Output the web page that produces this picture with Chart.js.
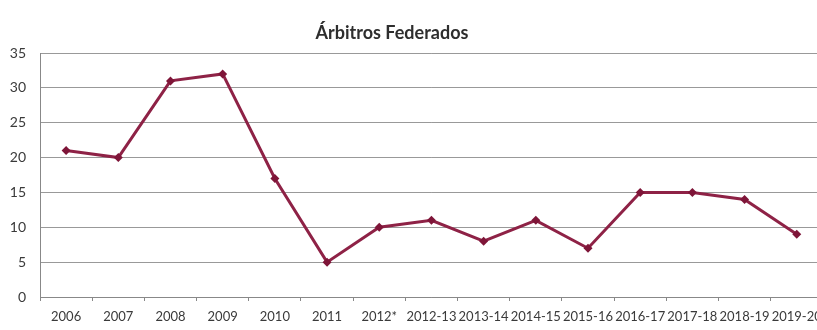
<!DOCTYPE html>
<html>
<head>
<meta charset="utf-8">
<script src="https://cdn.jsdelivr.net/npm/chart.js@4"></script>
<style>
html,body{margin:0;padding:0;background:#fff;overflow:hidden;width:817px;height:330px;}
canvas{display:block;}
</style>
</head>
<body>
<canvas id="c" width="830" height="330"></canvas>
<script>
const chartTitle = "Árbitros Federados";
const categories = ["2006","2007","2008","2009","2010","2011","2012*","2012-13","2013-14","2014-15","2015-16","2016-17","2017-18","2018-19","2019-20"];
const arbitros = [21,20,31,32,17,5,10,11,8,11,7,15,15,14,9];
const yTicks = [0,5,10,15,20,25,30,35];

const titlePlugin = {
  id: 'customTitle',
  afterDraw(chart) {
    const ctx = chart.ctx;
    ctx.save();
    ctx.font = 'bold 18px Lato, "Open Sans", sans-serif';
    ctx.fillStyle = '#2e2e2e';
    ctx.textAlign = 'center';
    ctx.textBaseline = 'middle';
    ctx.fillText(chartTitle, 392, 33);
    ctx.restore();
  }
};

new Chart(document.getElementById('c'), {
  type: 'line',
  data: {
    labels: categories,
    datasets: [{
      label: chartTitle,
      data: arbitros,
      borderColor: '#8e2246',
      backgroundColor: '#7e1538',
      borderWidth: 3,
      pointStyle: 'rectRot',
      pointRadius: 4.5,
      pointBorderWidth: 0,
      tension: 0,
      fill: false
    }]
  },
  options: {
    responsive: false,
    animation: false,
    layout: { padding: { left: 0, right: 7, top: 53, bottom: 0 } },
    plugins: { legend: { display: false }, title: { display: false }, tooltip: { enabled: false } },
    scales: {
      x: {
        offset: true,
        grid: { offset: true, drawOnChartArea: false, drawTicks: true, tickLength: 4, color: '#888888' },
        border: { color: '#888888', width: 1 },
        ticks: { color: '#3a3a3a', font: { family: 'Lato, "Open Sans", sans-serif', size: 13 }, maxRotation: 0, autoSkip: false, padding: 8 },
        afterFit(scale) { scale.height = 33; }
      },
      y: {
        min: 0, max: 35,
        afterBuildTicks(scale) { scale.ticks = yTicks.map(v => ({ value: v })); },
        grid: { color: '#999999', drawTicks: false, lineWidth: 1 },
        border: { color: '#888888', width: 1 },
        ticks: { color: '#3a3a3a', font: { family: 'Lato, "Open Sans", sans-serif', size: 14 }, padding: 14 },
        afterFit(scale) { scale.width = 40; }
      }
    }
  },
  plugins: [titlePlugin]
});
</script>
</body>
</html>
